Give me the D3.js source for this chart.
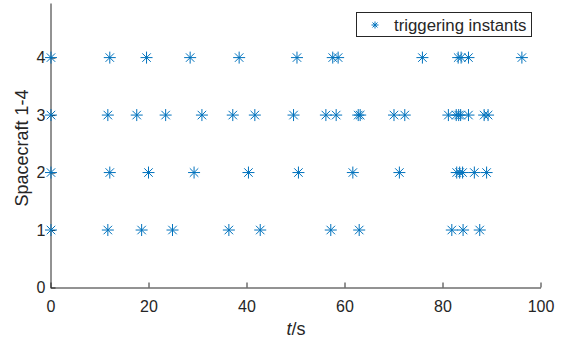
<!DOCTYPE html>
<html><head><meta charset="utf-8">
<script src="https://cdn.jsdelivr.net/npm/d3@7"></script>
<style>body{margin:0;background:#fff}svg{display:block}text{font-family:"Liberation Sans",Arial,sans-serif;fill:#262626}</style>
</head><body><svg id="c" width="565" height="341"></svg>
<script>
const spacecraft = [1, 2, 3, 4];
const times1 = [0.1, 11.7, 18.6, 24.9, 36.4, 42.8, 57.2, 63.0, 81.9, 84.2, 87.6];
const times2 = [0.1, 12.1, 20.0, 29.3, 40.4, 50.6, 61.7, 71.2, 82.9, 83.5, 84.1, 86.5, 89.0];
const times3 = [0.1, 11.7, 17.6, 23.5, 30.9, 37.2, 41.7, 49.6, 56.2, 58.3, 62.8, 63.2, 70.1, 72.3, 81.2, 82.8, 83.3, 83.7, 85.3, 88.5, 89.3];
const times4 = [0.1, 12.1, 19.6, 28.5, 38.5, 50.3, 57.6, 58.7, 75.9, 83.2, 83.8, 85.3, 96.2];
const xTicks = [0, 20, 40, 60, 80, 100];
const yTicks = [0, 1, 2, 3, 4];
const legendLabel = "triggering instants";

const allTimes = [times1, times2, times3, times4];
const points = [];
allTimes.forEach((arr, i) => arr.forEach(t => points.push({t, s: spacecraft[i]})));

const svg = d3.select("#c");
const color = "#0072BD", axisColor = "#262626";
const x = d3.scaleLinear().domain([0, 100]).range([50.5, 540.5]);
const y = d3.scaleLinear().domain([0, 4.95]).range([287.5, 3]);

function star(r) {
  const d = r * Math.SQRT1_2;
  return `M${-r},0L${r},0M0,${-r}L0,${r}M${-d},${-d}L${d},${d}M${-d},${d}L${d},${-d}`;
}

// axes
const xAxis = d3.axisBottom(x).tickValues(xTicks).tickFormat(d3.format("d")).tickSizeInner(-5).tickSizeOuter(0).tickPadding(13);
const gx = svg.append("g").attr("transform", `translate(0,${y(0)})`).call(xAxis);
const yAxis = d3.axisLeft(y).tickValues(yTicks).tickFormat(d3.format("d")).tickSizeInner(-5).tickSizeOuter(0).tickPadding(10);
const gy = svg.append("g").attr("transform", `translate(${x(0)},0)`).call(yAxis);
[gx, gy].forEach(g => {
  g.select(".domain").attr("stroke", axisColor).attr("stroke-width", 1);
  g.selectAll(".tick line").attr("stroke", axisColor).attr("stroke-width", 1);
  g.selectAll(".tick text").attr("font-size", 16).attr("fill", axisColor)
    .attr("font-family", '"Liberation Sans",Arial,sans-serif');
});
gy.selectAll(".tick text").attr("x", -5);

// points
svg.append("g").selectAll("path").data(points).join("path")
  .attr("transform", d => `translate(${x(d.t)},${y(d.s)})`)
  .attr("d", star(6))
  .attr("fill", "none").attr("stroke", color).attr("stroke-width", 1);

// labels
svg.append("text").attr("x", 296).attr("y", 335).attr("text-anchor", "middle").attr("font-size", 18)
  .html('<tspan font-style="italic">t</tspan>/s');
svg.append("text").attr("transform", "translate(28,148) rotate(-90)").attr("text-anchor", "middle")
  .attr("font-size", 18).text("Spacecraft 1-4");

// legend
const lg = svg.append("g");
lg.append("rect").attr("x", 356.5).attr("y", 12.5).attr("width", 175).attr("height", 24)
  .attr("fill", "#fff").attr("stroke", axisColor).attr("stroke-width", 1);
lg.append("path").attr("transform", "translate(375,25)").attr("d", star(3.5))
  .attr("fill", "none").attr("stroke", color).attr("stroke-width", 1);
lg.append("text").attr("x", 394).attr("y", 30.5).attr("font-size", 16.8).text(legendLabel);
</script></body></html>
